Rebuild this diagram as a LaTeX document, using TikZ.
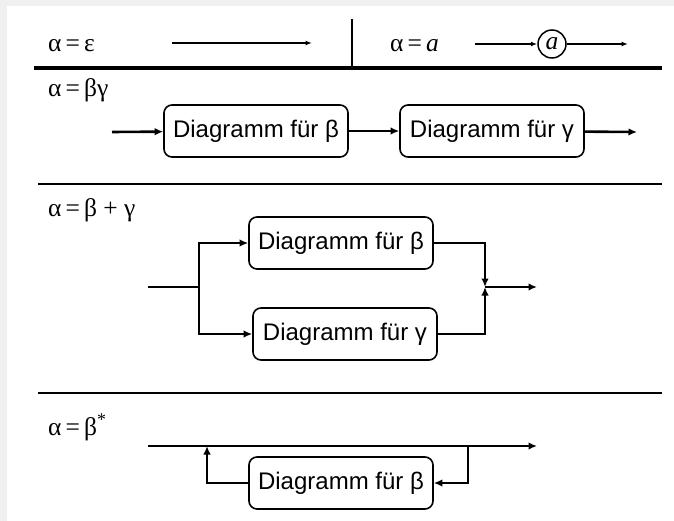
\documentclass[tikz,border=0pt]{standalone}
\usepackage{fontspec}
\setmainfont{Liberation Serif}
\newfontfamily\kastenfont{Liberation Sans}
\usetikzlibrary{arrows.meta}

\newcommand\gleich{\hspace{0.16em}=\hspace{0.16em}}

\tikzset{
  kasten/.style={draw, rounded corners=8pt, line width=1.6pt, minimum width=184pt,
    minimum height=52pt, inner sep=0pt, font=\kastenfont\fontsize{24}{28}\selectfont},
  formel/.style={anchor=base west, inner sep=0pt, font=\fontsize{25.5}{28}\selectfont},
  fluss/.style={line width=2.6pt},
  pfeil/.style={fluss, ->},
  duennpfeil/.style={line width=1.4pt, -{Latex[length=6.5pt,width=5pt]}},
  trenner/.style={line width=2.8pt}
}

\begin{document}
\begin{tikzpicture}[x=1pt, y=-1pt, >={Latex[length=8.5pt,width=7.5pt]}]
    \fill[black!6] (0,0) rectangle (674,521);
    \fill[white] (7,6) rectangle (674,521);
    \useasboundingbox (0,0) rectangle (674,521);

    % alpha = epsilon  |  alpha = a
    \node[formel] (leps) at (48,52) {α\gleich ε};
    \coordinate (e0) at (172,43);
    \coordinate (e1) at (312,43);
    \draw[duennpfeil] (e0) -- (e1);
    \draw[line width=2.8pt] (352,19) -- (352,68);
    \node[formel] (lsym) at (390,52) {α\gleich\textit{a}};
    \coordinate (a0) at (475,44);
    \node[draw, circle, line width=1.5pt, minimum size=28pt, inner sep=0pt,
          font=\fontsize{25.5}{28}\selectfont\itshape] (zeichen) at (552,44) {a};
    \coordinate (a1) at (628,44);
    \draw[duennpfeil] (a0) -- (zeichen);
    \draw[duennpfeil] (zeichen) -- (a1);

    \draw[line width=3.4pt] (34,68) -- (662,68);
    \foreach \y in {184, 393}
        \draw[trenner] (38,\y) -- (662,\y);

    % alpha = beta gamma
    \node[formel] (lkonk) at (48,97) {α\gleich βγ};
    \coordinate (k0) at (112,132);
    \node[kasten] (kb) at (256,131) {Diagramm für β};
    \node[kasten] (kg) at (492,131) {Diagramm für γ};
    \coordinate (k1) at (637,132);
    \draw[pfeil] (k0) -- (kb);
    \draw[pfeil] (kb) -- (kg);
    \draw[pfeil] (kg) -- (k1);

    % alpha = beta + gamma
    \node[formel] (lalt) at (48,217) {α\gleich β + γ};
    \node[kasten] (ab) at (341,243) {Diagramm für β};
    \node[kasten] (ag) at (345,334) {Diagramm für γ};
    \coordinate (p0) at (148,287);
    \coordinate (split) at (199,287);
    \coordinate (merge) at (485,287);
    \coordinate (p1) at (537,287);
    \draw[fluss] (p0) -- (split);
    \draw[pfeil] (split) |- (ab);
    \draw[pfeil] (split) |- (ag);
    \draw[pfeil] (ab) -| (merge);
    \draw[pfeil] (ag) -| (merge);
    \draw[pfeil] (merge) -- (p1);

    % alpha = beta^*
    \node[formel] (lstern) at (48,435) {α\gleich β\textsuperscript{*}};
    \node[kasten] (sb) at (341,483) {Diagramm für β};
    \coordinate (s0) at (148,446);
    \coordinate (s1) at (537,446);
    \coordinate (ab1) at (468,446);
    \coordinate (zu1) at (207,446);
    \draw[pfeil] (s0) -- (s1);
    \draw[pfeil] (ab1) |- (sb);
    \draw[pfeil] (sb) -| (zu1);
\end{tikzpicture}
\end{document}
